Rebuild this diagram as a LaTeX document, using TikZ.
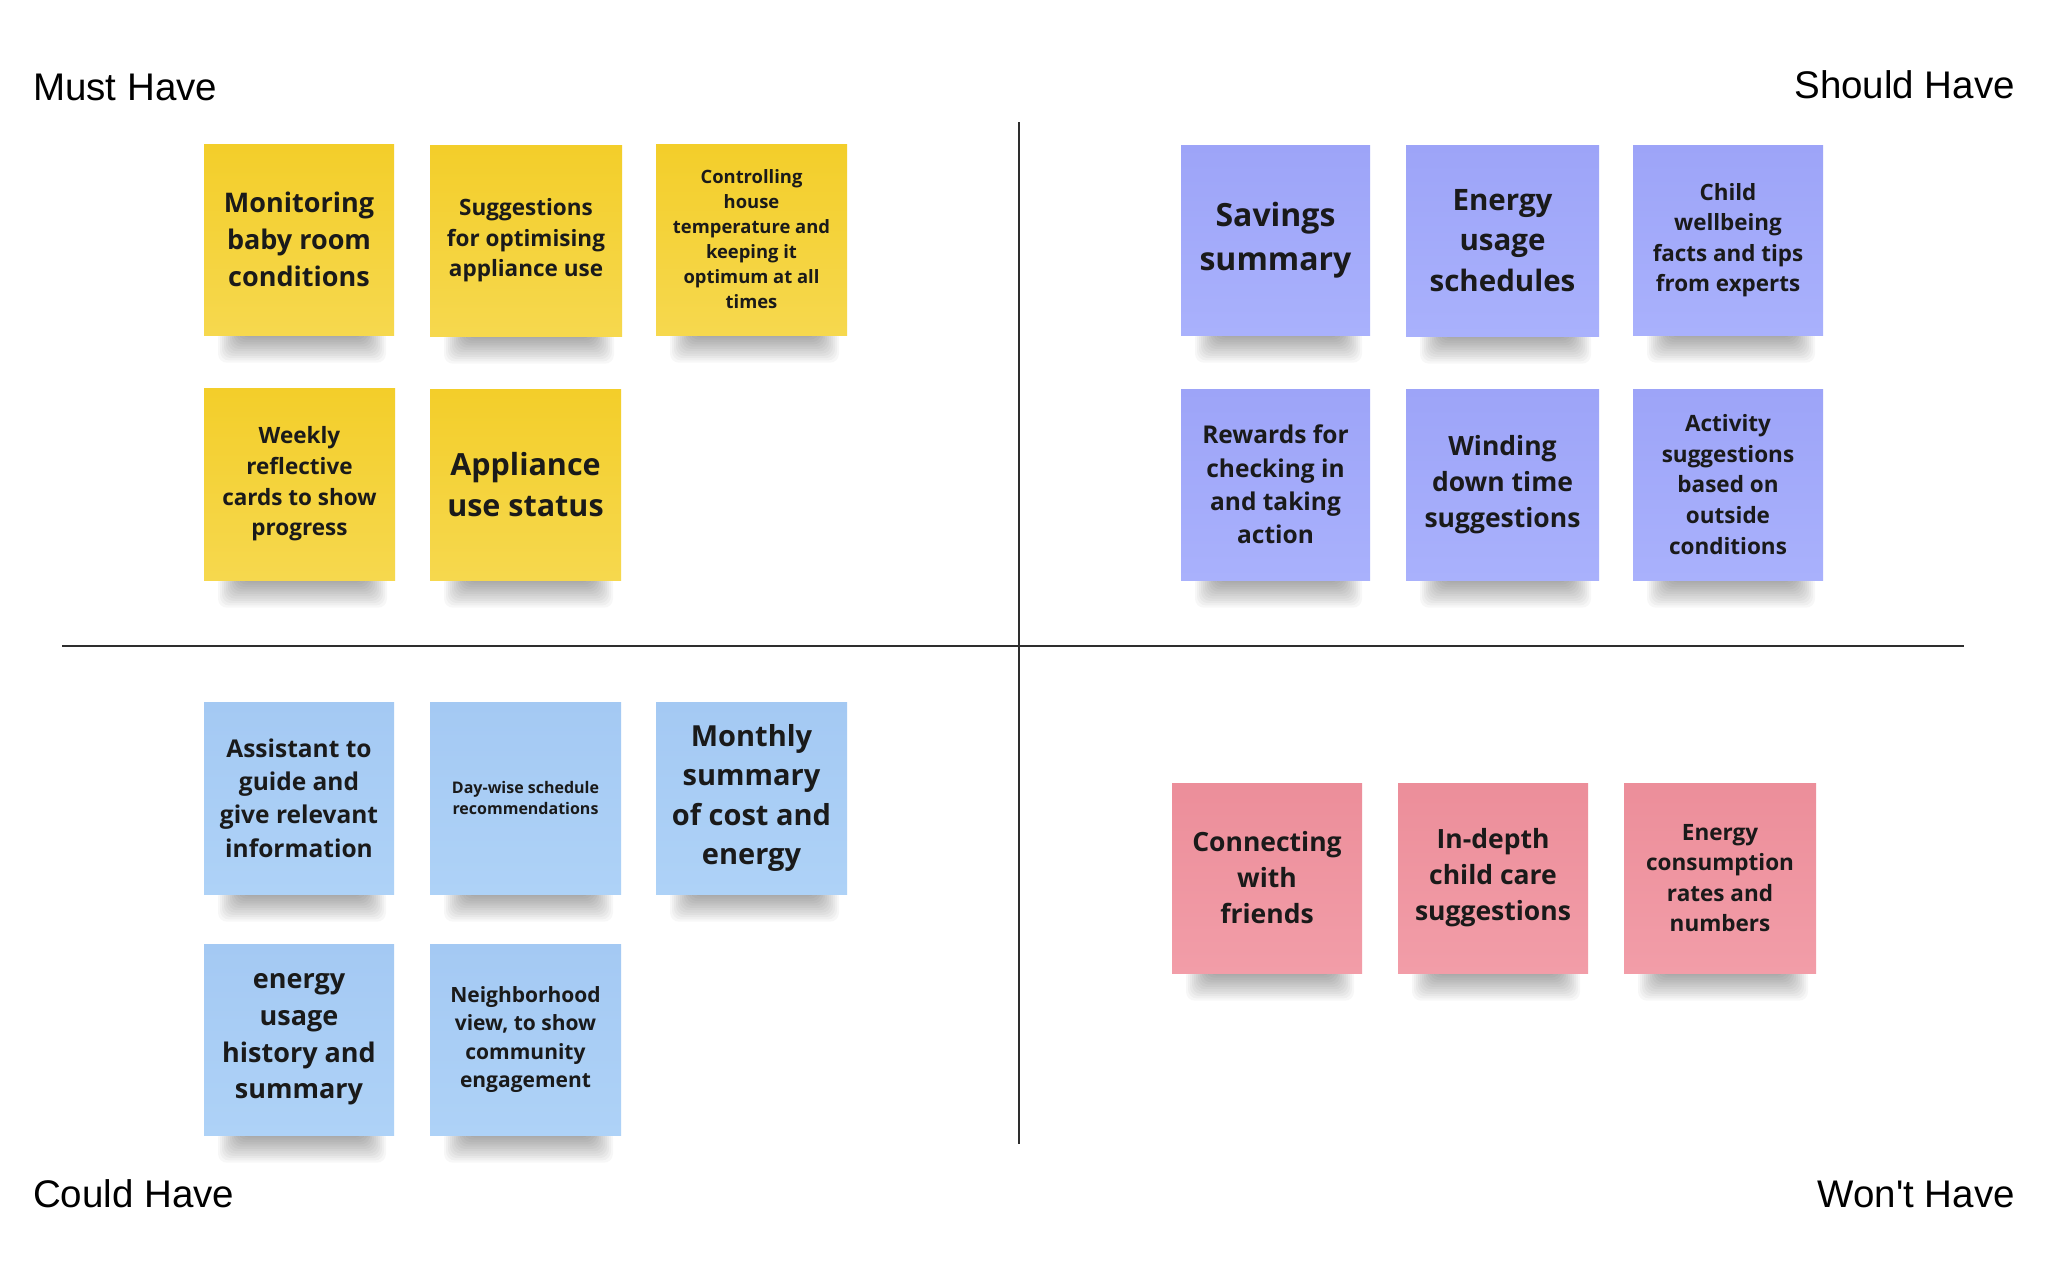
\documentclass[tikz,border=0pt]{standalone}
\usepackage{fontspec}
\newfontfamily\notefont{Open Sans}
\newfontfamily\headfont{Liberation Sans}
\definecolor{yelT}{HTML}{F3CE2A}
\definecolor{yelB}{HTML}{F6D84E}
\definecolor{purT}{HTML}{9DA4F8}
\definecolor{purB}{HTML}{A9B1FC}
\definecolor{bluT}{HTML}{A4C9F3}
\definecolor{bluB}{HTML}{AED2F7}
\definecolor{pinT}{HTML}{EC8E9A}
\definecolor{pinB}{HTML}{F29DA8}
\definecolor{ink}{HTML}{1A1A1A}
\definecolor{rule}{HTML}{2E2E2E}
\tikzset{
  stickybox/.style={inner sep=0pt, outer sep=0pt, align=center, text=ink},
  headlabel/.style={inner sep=0pt, font=\headfont\fontsize{38.5pt}{44pt}\selectfont, text=black},
  divider/.style={draw=rule, line width=2.4pt},
}
\newcommand\sticky[8]{%
  \foreach \k in {1,...,12}{%
    \fill[black, opacity=0.032, rounded corners=9pt]
      ({#2+12+2*\k},{#5-6}) rectangle ({#4-6-2*\k},{#5+30-2.3*\k});
  }%
  \pgfmathsetmacro\nw{#4-#2}%
  \pgfmathsetmacro\nh{#5-#3}%
  \pgfmathsetmacro\bs{1.36*#7}%
  \node[stickybox, top color=#6T, bottom color=#6B, minimum width=\nw pt, minimum height=\nh pt,
        font=\notefont\bfseries\fontsize{#7pt}{\bs pt}\selectfont]
    (#1) at ({(#2+#4)/2},{(#3+#5)/2}) {#8};
}
\begin{document}
\begin{tikzpicture}[x=1pt,y=-1pt]
\useasboundingbox[fill=white] (0,0) rectangle (2048,1283);

% dividers
\coordinate (vtop) at (1019,122);
\coordinate (vbot) at (1019,1144);
\coordinate (hleft) at (62,646);
\coordinate (hright) at (1964,646);
\draw[divider] (vtop) -- (vbot);
\draw[divider] (hleft) -- (hright);

% headings
\node[headlabel, anchor=base west] (must) at (33,100) {Must Have};
\node[headlabel, anchor=base east] (should) at (2015,98) {Should Have};
\node[headlabel, anchor=base west] (could) at (33,1207) {Could Have};
\node[headlabel, anchor=base east] (wont) at (2015,1207) {Won't Have};

% Must Have
\sticky{m1}{204}{144}{394}{335}{yel}{27}{Monitoring\\baby room\\conditions}
\sticky{m2}{430}{145}{622}{336}{yel}{22.5}{Suggestions\\for optimising\\appliance use}
\sticky{m3}{656}{144}{847}{335}{yel}{18.4}{Controlling\\house\\temperature and\\keeping it\\optimum at all\\times}
\sticky{m4}{204}{388}{395}{580}{yel}{22.5}{Weekly\\reflective\\cards to show\\progress}
\sticky{m5}{430}{389}{621}{580}{yel}{30.5}{Appliance\\use status}

% Should Have
\sticky{s1}{1181}{145}{1370}{335}{pur}{32}{Savings\\summary}
\sticky{s2}{1406}{145}{1599}{336}{pur}{29.5}{Energy\\usage\\schedules}
\sticky{s3}{1633}{145}{1823}{335}{pur}{22.4}{Child\\wellbeing\\facts and tips\\from experts}
\sticky{s4}{1181}{389}{1370}{580}{pur}{24.5}{Rewards for\\checking in\\and taking\\action}
\sticky{s5}{1406}{389}{1599}{580}{pur}{26.5}{Winding\\down time\\suggestions}
\sticky{s6}{1633}{389}{1823}{580}{pur}{22.5}{Activity\\suggestions\\based on\\outside\\conditions}

% Could Have
\sticky{c1}{204}{702}{394}{894}{blu}{24.5}{Assistant to\\guide and\\give relevant\\information}
\sticky{c2}{430}{702}{621}{894}{blu}{16}{Day-wise schedule\\recommendations}
\sticky{c3}{656}{702}{847}{894}{blu}{29}{Monthly\\summary\\of cost and\\energy}
\sticky{c4}{204}{944}{394}{1135}{blu}{27}{energy\\usage\\history and\\summary}
\sticky{c5}{430}{944}{621}{1135}{blu}{21}{Neighborhood\\view, to show\\community\\engagement}

% Won't Have
\sticky{w1}{1172}{783}{1362}{973}{pin}{26.5}{Connecting\\with\\friends}
\sticky{w2}{1398}{783}{1588}{973}{pin}{26.5}{In-depth\\child care\\suggestions}
\sticky{w3}{1624}{783}{1816}{973}{pin}{22.5}{Energy\\consumption\\rates and\\numbers}
\end{tikzpicture}
\end{document}
